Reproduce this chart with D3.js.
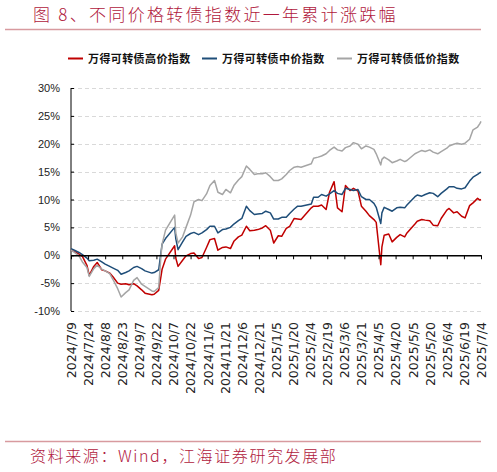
<!DOCTYPE html>
<html>
<head>
<meta charset="utf-8">
<script src="https://cdn.jsdelivr.net/npm/d3@7"></script>
<style>
  body { margin: 0; background: #fff; }
  svg { display: block; }
</style>
</head>
<body>
<div id="chart"></div>
<script>
// Series names (legend order)
const seriesNames = ["万得可转债高价指数", "万得可转债中价指数", "万得可转债低价指数"];

// Trading dates
const dates = [
  "2024/7/9","2024/7/12","2024/7/16","2024/7/19","2024/7/23","2024/7/25","2024/7/29","2024/8/1",
  "2024/8/5","2024/8/8","2024/8/12","2024/8/15","2024/8/19","2024/8/22","2024/8/26","2024/8/29",
  "2024/9/2","2024/9/5","2024/9/9","2024/9/12","2024/9/18","2024/9/20","2024/9/24","2024/9/26",
  "2024/9/27","2024/9/30","2024/10/8","2024/10/9","2024/10/11","2024/10/15","2024/10/18","2024/10/22",
  "2024/10/25","2024/10/29","2024/11/1","2024/11/5","2024/11/8","2024/11/12","2024/11/15","2024/11/19",
  "2024/11/22","2024/11/26","2024/11/29","2024/12/3","2024/12/6","2024/12/10","2024/12/13","2024/12/17",
  "2024/12/20","2024/12/24","2024/12/27","2024/12/31","2025/1/3","2025/1/7","2025/1/10","2025/1/14",
  "2025/1/17","2025/1/21","2025/1/24","2025/1/27","2025/2/5","2025/2/7","2025/2/11","2025/2/14",
  "2025/2/18","2025/2/21","2025/2/25","2025/2/28","2025/3/4","2025/3/7","2025/3/11","2025/3/14",
  "2025/3/18","2025/3/21","2025/3/25","2025/3/28","2025/4/1","2025/4/3","2025/4/7","2025/4/8",
  "2025/4/10","2025/4/14","2025/4/17","2025/4/21","2025/4/24","2025/4/28","2025/4/30","2025/5/7",
  "2025/5/9","2025/5/13","2025/5/16","2025/5/20","2025/5/23","2025/5/27","2025/5/30","2025/6/4",
  "2025/6/6","2025/6/10","2025/6/13","2025/6/17","2025/6/20","2025/6/24","2025/6/27","2025/7/1",
  "2025/7/3","2025/7/4"
];

// Cumulative change, %
const highPrice = [
  0.9, 0.7, 0.2, -0.2, -1.8, -3.6, -2.0, -1.3,
  -2.6, -2.8, -3.2, -3.9, -5.0, -5.2, -5.1, -5.3,
  -5.1, -5.5, -6.2, -6.8, -7.1, -7.0, -6.3, -3.8,
  -2.5, -0.7, 1.7, -0.5, -2.0, -0.9, -0.1, 0.3,
  0.4, -0.6, -0.4, 1.4, 2.8, 3.0, 0.9, 1.4,
  1.5, 1.2, 2.5, 3.3, 3.6, 5.2, 4.4, 4.5,
  4.6, 4.9, 5.3, 4.5, 2.2, 3.5, 3.4, 4.8,
  5.2, 6.6, 6.5, 6.4, 8.5, 8.8, 8.8, 9.0,
  8.2, 11.3, 13.2, 8.5, 7.8, 12.5, 11.6, 12.0,
  11.5, 8.8, 7.9, 7.1, 6.4, 5.9, -1.7, 1.5,
  3.6, 3.8, 2.4, 3.2, 3.7, 3.3, 4.0, 5.6,
  6.1, 6.4, 6.3, 6.2, 5.4, 5.3, 6.6, 8.1,
  8.4, 7.6, 7.8, 7.0, 6.7, 8.9, 9.4, 10.2,
  9.9, 10.0
];
const midPrice = [
  1.2, 0.9, 0.5, 0.1, -0.5, -1.0, -0.9, -0.7,
  -1.2, -1.6, -2.0, -2.3, -2.7, -3.4, -3.1, -2.8,
  -2.2, -2.0, -2.4, -2.8, -3.2, -3.1, -2.6, 0.5,
  2.0, 3.0, 5.0, 3.0, 1.0, 2.4, 3.4, 3.9,
  4.1, 3.7, 4.0, 4.6, 5.2, 5.2, 4.0, 4.6,
  4.7, 5.0, 5.6, 6.2, 6.6, 8.8, 8.0, 7.3,
  7.4, 7.5, 7.9, 7.6, 6.5, 6.5, 6.8, 6.8,
  7.5, 8.3, 8.8, 8.8, 9.2, 10.4, 10.4, 10.9,
  10.6, 11.0, 11.6, 11.1, 10.9, 12.0, 11.8, 11.6,
  11.8, 10.5, 10.0, 10.0, 9.3, 8.6, 5.7, 7.6,
  8.6, 8.2, 7.9, 8.5, 8.6, 8.5, 9.0, 10.5,
  10.8, 10.6, 10.9, 11.2, 11.1, 10.5, 11.1, 11.9,
  12.3, 12.3, 12.0, 11.9, 12.1, 13.3, 14.0, 14.5,
  14.8, 14.9
];
const lowPrice = [
  0.9, 0.5, -0.1, -1.2, -2.2, -3.8, -2.4, -1.8,
  -2.5, -2.8, -3.3, -4.4, -6.0, -7.5, -6.7, -6.2,
  -4.5, -4.0, -5.2, -5.6, -6.4, -6.5, -5.8, 0.0,
  2.0, 4.5, 7.2, 4.0, 2.2, 3.3, 5.0, 7.2,
  9.6, 10.0, 9.8, 11.0, 12.5, 13.4, 11.3, 10.9,
  11.8, 11.2, 12.5, 13.5, 14.1, 16.0, 15.4, 14.5,
  14.6, 14.6, 14.8, 14.1, 13.4, 13.4, 13.7, 14.5,
  15.2, 15.8, 15.9, 15.8, 16.4, 17.4, 17.6, 17.8,
  18.2, 18.8, 19.4, 18.9, 18.7, 19.3, 19.6, 20.2,
  19.9, 19.1, 19.6, 19.4, 19.0, 18.2, 16.2, 17.2,
  17.6, 17.1, 16.6, 16.9, 17.2, 16.8, 17.0, 18.2,
  18.4, 18.8, 18.6, 18.9, 18.5, 18.2, 18.6, 19.2,
  19.6, 19.9, 20.1, 19.9, 20.1, 20.8, 22.5, 23.0,
  23.6, 24.0
];

// Axis ticks
const xTickLabels = [
  "2024/7/9","2024/7/24","2024/8/8","2024/8/23","2024/9/7","2024/9/22","2024/10/7","2024/10/22",
  "2024/11/6","2024/11/21","2024/12/6","2024/12/21","2025/1/5","2025/1/20","2025/2/4","2025/2/19",
  "2025/3/6","2025/3/21","2025/4/5","2025/4/20","2025/5/5","2025/5/20","2025/6/4","2025/6/19","2025/7/4"
];
const yTicks = [-10, -5, 0, 5, 10, 15, 20, 25, 30];

const colors = ["#c00000", "#1f4e79", "#a5a5a5"];

const W = 497, H = 472;
const plot = { left: 71, right: 481, top: 88, bottom: 311 };
const parse = d3.timeParse("%Y/%m/%d");

const svg = d3.select("#chart").append("svg")
    .attr("width", W)
    .attr("height", H);

const x = d3.scaleTime()
    .domain([parse(xTickLabels[0]), parse(xTickLabels[xTickLabels.length - 1])])
    .range([plot.left, plot.right]);

const y = d3.scaleLinear()
    .domain([-10, 30])
    .range([plot.bottom, plot.top]);

// Title + rules
const red = "#b0183c";
svg.append("text")
    .attr("x", 33).attr("y", 21)
    .attr("fill", red)
    .style("font-family", "'Noto Sans CJK SC', sans-serif")
    .style("font-size", "17px")
    .style("font-weight", "300")
    .style("letter-spacing", "2.3px")
    .text("图 8、不同价格转债指数近一年累计涨跌幅");

svg.append("line")
    .attr("x1", 5).attr("x2", 481).attr("y1", 29.5).attr("y2", 29.5)
    .attr("stroke", "#d89a9f").attr("stroke-width", 1.5);

svg.append("line")
    .attr("x1", 5).attr("x2", 481).attr("y1", 441.5).attr("y2", 441.5)
    .attr("stroke", "#d89a9f").attr("stroke-width", 1.5);

svg.append("text")
    .attr("x", 30).attr("y", 462)
    .attr("fill", red)
    .style("font-family", "'Noto Sans CJK SC', sans-serif")
    .style("font-size", "16px")
    .style("font-weight", "300")
    .style("letter-spacing", "1.6px")
    .text("资料来源：Wind，江海证券研究发展部");

// Legend
const legendX = [68, 202, 337];
const legend = svg.append("g");
seriesNames.forEach((name, i) => {
    legend.append("line")
        .attr("x1", legendX[i]).attr("x2", legendX[i] + 15)
        .attr("y1", 58.5).attr("y2", 58.5)
        .attr("stroke", colors[i]).attr("stroke-width", 2);
    legend.append("text")
        .attr("x", legendX[i] + 20).attr("y", 62.5)
        .style("font-family", "'Noto Sans CJK SC', sans-serif")
        .style("font-size", "11px")
        .style("font-weight", "bold")
        .style("letter-spacing", "0.4px")
        .attr("fill", "#111")
        .text(name);
});

// Gridlines
svg.append("g")
    .selectAll("line")
    .data(yTicks.filter(v => v !== 0))
    .enter()
    .append("line")
    .attr("x1", plot.left).attr("x2", plot.right)
    .attr("y1", d => Math.round(y(d)) + 0.5).attr("y2", d => Math.round(y(d)) + 0.5)
    .attr("stroke", "#d9d9d9")
    .attr("stroke-dasharray", "4,3");

// Y axis
const yAxis = svg.append("g")
    .attr("transform", `translate(${plot.left},0)`)
    .call(d3.axisLeft(y).tickValues(yTicks).tickSize(-3).tickPadding(11).tickFormat(d => d + "%"));
yAxis.select(".domain").attr("stroke", "#000").attr("d", `M0,${plot.top}V${plot.bottom}`);
yAxis.selectAll(".tick line").attr("stroke", "#000");
yAxis.selectAll(".tick text")
    .attr("fill", "#222")
    .style("font-family", "'Liberation Sans Narrow', 'Liberation Sans', sans-serif")
    .style("font-size", "11px");

// Series lines
const seriesData = [highPrice, midPrice, lowPrice];
const line = d3.line()
    .x((d, i) => x(parse(dates[i])))
    .y(d => y(d));

svg.append("g")
    .selectAll("path")
    .data(seriesData)
    .enter()
    .append("path")
    .attr("fill", "none")
    .attr("stroke", (d, i) => colors[i])
    .attr("stroke-width", 1.5)
    .attr("stroke-linejoin", "round")
    .attr("d", line);

// X axis on the zero line
const xAxis = svg.append("g")
    .attr("transform", `translate(0,${y(0)})`)
    .call(d3.axisBottom(x)
        .tickValues(xTickLabels.map(parse))
        .tickSize(4)
        .tickSizeOuter(0)
        .tickFormat((d, i) => xTickLabels[i]));
xAxis.select(".domain").attr("stroke", "#000").attr("stroke-width", 1.3);
xAxis.selectAll(".tick line").attr("stroke", "#000");
xAxis.selectAll(".tick text")
    .attr("fill", "#222")
    .attr("transform", `translate(0,${plot.bottom - y(0) + 11}) rotate(-90)`)
    .attr("x", 0).attr("y", 0).attr("dy", "0.35em")
    .attr("text-anchor", "end")
    .style("font-family", "'DejaVu Sans', sans-serif")
    .style("font-size", "12.5px");
</script>
</body>
</html>
